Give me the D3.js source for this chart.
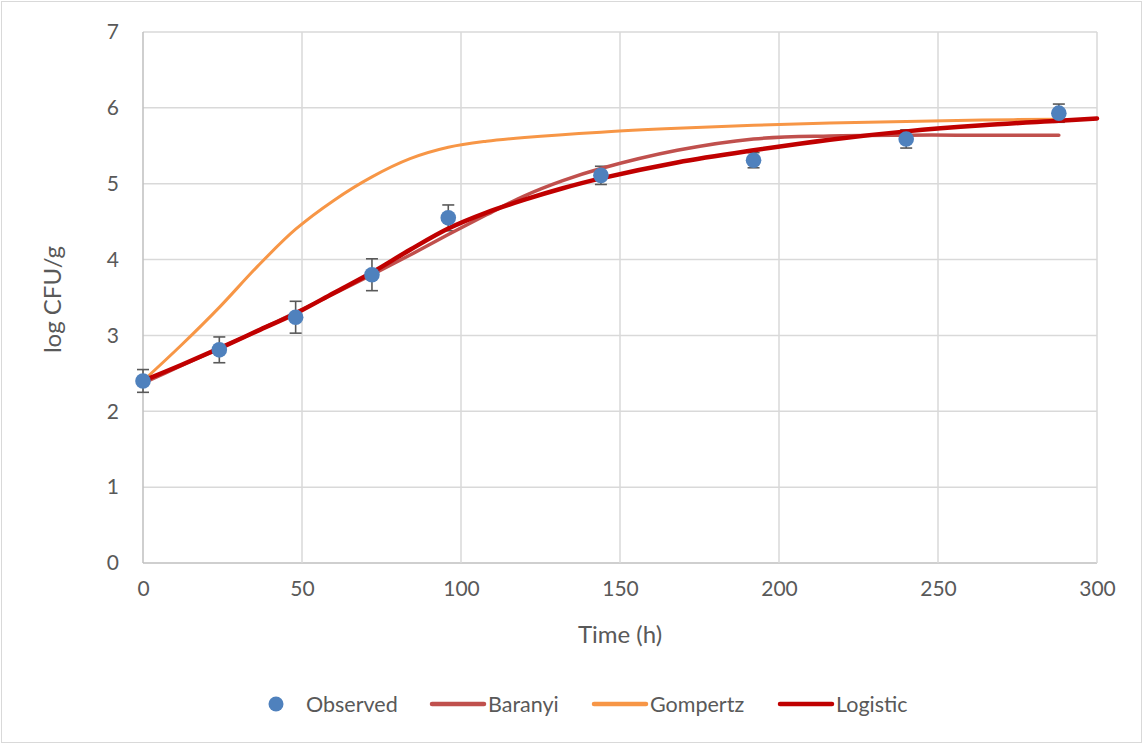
<!DOCTYPE html>
<html>
<head>
<meta charset="utf-8">
<script src="https://cdn.jsdelivr.net/npm/d3@7"></script>
<style>
  html, body { margin: 0; padding: 0; background: #fff; }
  svg { display: block; font-family: Lato, "Open Sans", "Liberation Sans", sans-serif; }
</style>
</head>
<body>
<svg id="chart" width="1143" height="744"></svg>
<script>
// Observed counts (mean ± error) at sampling times
const obsTime = [0, 24, 48, 72, 96, 144, 192, 240, 288];
const obsValue = [2.40, 2.81, 3.24, 3.80, 4.55, 5.11, 5.31, 5.59, 5.93];
const obsError = [0.15, 0.17, 0.21, 0.21, 0.17, 0.12, 0.10, 0.12, 0.12];

// Fitted model curves
const baranyiTime = [0, 12, 24, 36, 48, 60, 72, 84, 96, 108, 120, 132, 144, 168, 192, 216, 240, 264, 288];
const baranyiValue = [2.37, 2.60, 2.83, 3.06, 3.30, 3.55, 3.80, 4.06, 4.33, 4.59, 4.84, 5.04, 5.20, 5.44, 5.59, 5.63, 5.64, 5.64, 5.64];

const gompertzTime = [0, 12, 24, 36, 48, 60, 72, 84, 96, 108, 120, 144, 168, 192, 216, 240, 264, 288];
const gompertzValue = [2.40, 2.87, 3.37, 3.91, 4.40, 4.78, 5.09, 5.33, 5.48, 5.56, 5.61, 5.68, 5.73, 5.77, 5.80, 5.82, 5.84, 5.85];

const logisticTime = [0, 12, 24, 36, 48, 60, 72, 84, 96, 108, 120, 132, 144, 168, 192, 216, 240, 264, 288, 300];
const logisticValue = [2.40, 2.61, 2.83, 3.06, 3.29, 3.56, 3.83, 4.13, 4.41, 4.62, 4.79, 4.94, 5.07, 5.28, 5.44, 5.58, 5.69, 5.77, 5.83, 5.86];

const xTicks = [0, 50, 100, 150, 200, 250, 300];
const yTicks = [0, 1, 2, 3, 4, 5, 6, 7];

const seriesNames = ["Observed", "Baranyi", "Gompertz", "Logistic"];
const seriesColors = ["#4F81BD", "#C0504D", "#F79646", "#C00000"];
const lineWidths = [0, 3.5, 3, 4.5];

const svg = d3.select("#chart");
const W = 1143, H = 744;
const plot = { left: 143, right: 1097, top: 32, bottom: 563 };
const textColor = "#595959";

// Outer chart frame
svg.append("rect")
  .attr("x", 1.5).attr("y", 1.5)
  .attr("width", W - 3).attr("height", H - 3)
  .attr("fill", "#fff").attr("stroke", "#D9D9D9").attr("stroke-width", 1);

const x = d3.scaleLinear().domain([0, 300]).range([plot.left, plot.right]);
const y = d3.scaleLinear().domain([0, 7]).range([plot.bottom, plot.top]);

// Gridlines
const grid = svg.append("g");
grid.selectAll("line.h").data(yTicks).join("line")
  .attr("x1", plot.left).attr("x2", plot.right)
  .attr("y1", d => y(d)).attr("y2", d => y(d))
  .attr("stroke", d => d === 0 ? "#BFBFBF" : "#D9D9D9").attr("stroke-width", 1.5);
grid.selectAll("line.v").data(xTicks).join("line")
  .attr("y1", plot.top).attr("y2", plot.bottom)
  .attr("x1", d => x(d)).attr("x2", d => x(d))
  .attr("stroke", d => d === 0 ? "#BFBFBF" : "#D9D9D9").attr("stroke-width", 1.5);

// Axes (labels only; lines come from the grid)
const xAxis = svg.append("g")
  .attr("transform", `translate(0,${plot.bottom + 13})`)
  .call(d3.axisBottom(x).tickValues(xTicks).tickFormat(d3.format("d")).tickSize(0).tickPadding(5));
const yAxis = svg.append("g")
  .attr("transform", `translate(${plot.left - 24},0)`)
  .call(d3.axisLeft(y).tickValues(yTicks).tickFormat(d3.format("d")).tickSize(0).tickPadding(0));
[xAxis, yAxis].forEach(a => {
  a.select(".domain").remove();
  a.selectAll("text").attr("fill", textColor).style("font-size", "21px")
    .style("font-family", "Lato, 'Open Sans', sans-serif");
});

// Axis titles
svg.append("text")
  .attr("x", 620).attr("y", 643)
  .attr("text-anchor", "middle").attr("fill", textColor)
  .style("font-size", "24px").text("Time (h)");
svg.append("text")
  .attr("transform", `translate(61,${(plot.top + plot.bottom) / 2 + 2}) rotate(-90)`)
  .attr("text-anchor", "middle").attr("fill", textColor)
  .style("font-size", "24px").text("log CFU/g");

const obs = obsTime.map((t, i) => ({ t, v: obsValue[i], e: obsError[i] }));

// Error bars
const eb = svg.append("g").attr("stroke", "#595959").attr("stroke-width", 1.6);
obs.forEach(d => {
  const cx = x(d.t), y1 = y(d.v + d.e), y2 = y(d.v - d.e);
  eb.append("line").attr("x1", cx).attr("x2", cx).attr("y1", y1).attr("y2", y2);
  eb.append("line").attr("x1", cx - 6).attr("x2", cx + 6).attr("y1", y1).attr("y2", y1);
  eb.append("line").attr("x1", cx - 6).attr("x2", cx + 6).attr("y1", y2).attr("y2", y2);
});

// Model curves
const line = d3.line().x(d => x(d[0])).y(d => y(d[1])).curve(d3.curveCatmullRom.alpha(0.5));
const curves = [
  [baranyiTime, baranyiValue],
  [gompertzTime, gompertzValue],
  [logisticTime, logisticValue]
];
curves.forEach((c, i) => {
  svg.append("path")
    .datum(c[0].map((t, j) => [t, c[1][j]]))
    .attr("d", line)
    .attr("fill", "none")
    .attr("stroke", seriesColors[i + 1])
    .attr("stroke-width", lineWidths[i + 1])
    .attr("stroke-linecap", "round")
    .attr("stroke-linejoin", "round");
});

// Observed markers
svg.append("g").selectAll("circle").data(obs).join("circle")
  .attr("cx", d => x(d.t)).attr("cy", d => y(d.v)).attr("r", 7.8)
  .attr("fill", seriesColors[0]);

// Legend
const legend = svg.append("g");
const legendY = 704;
const legendItems = [
  { sym: 276, text: 306 },
  { sym: 432, text: 488 },
  { sym: 594, text: 650 },
  { sym: 780, text: 836 }
];
legendItems.forEach((it, i) => {
  if (i === 0) {
    legend.append("circle").attr("cx", it.sym).attr("cy", legendY).attr("r", 7.5)
      .attr("fill", seriesColors[0]);
  } else {
    legend.append("line")
      .attr("x1", it.sym).attr("x2", it.sym + 52)
      .attr("y1", legendY).attr("y2", legendY)
      .attr("stroke", seriesColors[i]).attr("stroke-width", 4.5)
      .attr("stroke-linecap", "round");
  }
  legend.append("text").attr("x", it.text).attr("y", legendY)
    .attr("dy", "0.35em").attr("fill", textColor)
    .style("font-size", "21.5px").text(seriesNames[i]);
});
</script>
</body>
</html>
